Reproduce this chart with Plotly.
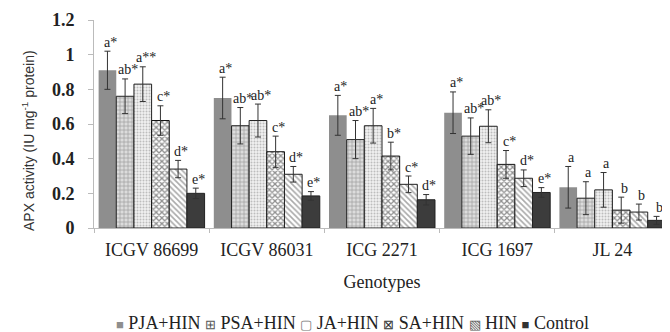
import plotly.graph_objects as go

genotypes = ["ICGV 86699", "ICGV 86031", "ICG 2271", "ICG 1697", "JL 24"]
series_names = ["PJA+HIN", "PSA+HIN", "JA+HIN", "SA+HIN", "HIN", "Control"]

pja = [0.91, 0.75, 0.65, 0.665, 0.235]
psa = [0.76, 0.59, 0.51, 0.53, 0.172]
ja = [0.83, 0.62, 0.59, 0.587, 0.22]
sa = [0.62, 0.44, 0.415, 0.367, 0.103]
hin = [0.34, 0.31, 0.252, 0.287, 0.092]
ctrl = [0.20, 0.185, 0.163, 0.205, 0.044]

pja_err = [0.11, 0.12, 0.115, 0.12, 0.12]
psa_err = [0.10, 0.105, 0.11, 0.105, 0.095]
ja_err = [0.10, 0.095, 0.10, 0.095, 0.10]
sa_err = [0.085, 0.09, 0.08, 0.08, 0.075]
hin_err = [0.05, 0.045, 0.048, 0.048, 0.046]
ctrl_err = [0.03, 0.025, 0.03, 0.028, 0.023]

pja_lbl = ["a*", "a*", "a*", "a*", "a"]
psa_lbl = ["ab*", "ab*", "ab*", "ab*", "a"]
ja_lbl = ["a**", "ab*", "a*", "ab*", "a"]
sa_lbl = ["c*", "c*", "b*", "c*", "b"]
hin_lbl = ["d*", "d*", "c*", "d*", "b"]
ctrl_lbl = ["e*", "e*", "d*", "e*", "b"]

values = [pja, psa, ja, sa, hin, ctrl]
errors = [pja_err, psa_err, ja_err, sa_err, hin_err, ctrl_err]
labels = [pja_lbl, psa_lbl, ja_lbl, sa_lbl, hin_lbl, ctrl_lbl]

styles = [
    dict(color="#8e8e8e", line=dict(color="#8e8e8e", width=0)),
    dict(color="#d4d4d4", line=dict(color="#222", width=1),
         pattern=dict(shape="+", fgcolor="#6a6a6a", bgcolor="#dcdcdc", size=4, solidity=0.35)),
    dict(color="#eeeeee", line=dict(color="#222", width=1),
         pattern=dict(shape=".", fgcolor="#8a8a8a", bgcolor="#f0f0f0", size=3, solidity=0.35)),
    dict(color="#555", line=dict(color="#111", width=1),
         pattern=dict(shape="x", fgcolor="#222", bgcolor="#ffffff", size=4, solidity=0.55)),
    dict(color="#bbb", line=dict(color="#222", width=1),
         pattern=dict(shape="\\", fgcolor="#555", bgcolor="#ffffff", size=4, solidity=0.4)),
    dict(color="#3c3c3c", line=dict(color="#222", width=1)),
]
# legend swatch glyphs and colours (small symbols as in the reference key)
legend_glyphs = ["■", "⊞", "▢", "⊠", "▧", "■"]
legend_glyph_colors = ["#8e8e8e", "#555", "#777", "#333", "#555", "#333"]

serif = "Liberation Serif, Times New Roman, serif"
W, H = 670, 332
ML, MR, MT, MB = 86, 8, 12, 112
plot_w = W - ML - MR
plot_h = H - MT - MB

fig = go.Figure()
for name, v, e, st in zip(series_names, values, errors, styles):
    fig.add_trace(go.Bar(
        name=name, x=genotypes, y=v, marker=st, showlegend=False,
        error_y=dict(type="data", array=e, visible=True, color="#333", thickness=1, width=3),
    ))

# letter annotations above error bars
cat_w = plot_w / len(genotypes)
bargap = 0.08
bar_w = cat_w * (1 - bargap) / len(series_names)
for i, (v, e, lb) in enumerate(zip(values, errors, labels)):
    for j, g in enumerate(genotypes):
        fig.add_annotation(
            x=g, y=v[j] + e[j], text=lb[j], showarrow=False,
            xshift=(i - 2.5) * bar_w + 3, yshift=9,
            font=dict(family=serif, size=14, color="#222"),
        )

# key below the chart
parts = []
for gl, col, nm in zip(legend_glyphs, legend_glyph_colors, series_names):
    parts.append(f'<span style="font-size:13px;fill:{col}">{gl}</span> {nm}')
fig.add_annotation(
    xref="paper", yref="paper", x=(344 - ML) / plot_w, y=(MT + plot_h - 315) / plot_h,
    text=" ".join(parts), showarrow=False, xanchor="center", yanchor="middle",
    font=dict(family=serif, size=18, color="#222"),
)
# y-axis title
fig.add_annotation(
    xref="paper", yref="paper", x=0, xshift=-66, y=(MT + plot_h - 133) / plot_h,
    text="APX activity (IU mg<sup>-1</sup> protein)", textangle=-90, showarrow=False,
    xanchor="center", yanchor="middle",
    font=dict(family="Liberation Sans, Arial, sans-serif", size=14, color="#333"),
)

fig.update_layout(
    width=W, height=H,
    margin=dict(l=ML, r=MR, t=MT, b=MB),
    paper_bgcolor="white", plot_bgcolor="white",
    barmode="group", bargap=bargap, bargroupgap=0,
    showlegend=False,
    xaxis=dict(
        automargin=False,
        showline=True, linecolor="#bbb", linewidth=1,
        ticks="outside", tickson="boundaries", ticklen=4, tickcolor="#bbb",
        tickfont=dict(family=serif, size=18, color="#222"),
        ticklabelstandoff=5,
        title=dict(text="Genotypes", font=dict(family=serif, size=18, color="#222"), standoff=16),
    ),
    yaxis=dict(
        automargin=False,
        range=[0, 1.2], dtick=0.2, tickformat="~g",
        showline=True, linecolor="#bbb", linewidth=1,
        ticks="outside", ticklen=5, tickcolor="#bbb",
        showgrid=False, zeroline=False,
        tickfont=dict(family=serif, size=18, color="#222", weight="bold"),
        ticklabelstandoff=10,
    ),
)
fig.write_html("out.html")
